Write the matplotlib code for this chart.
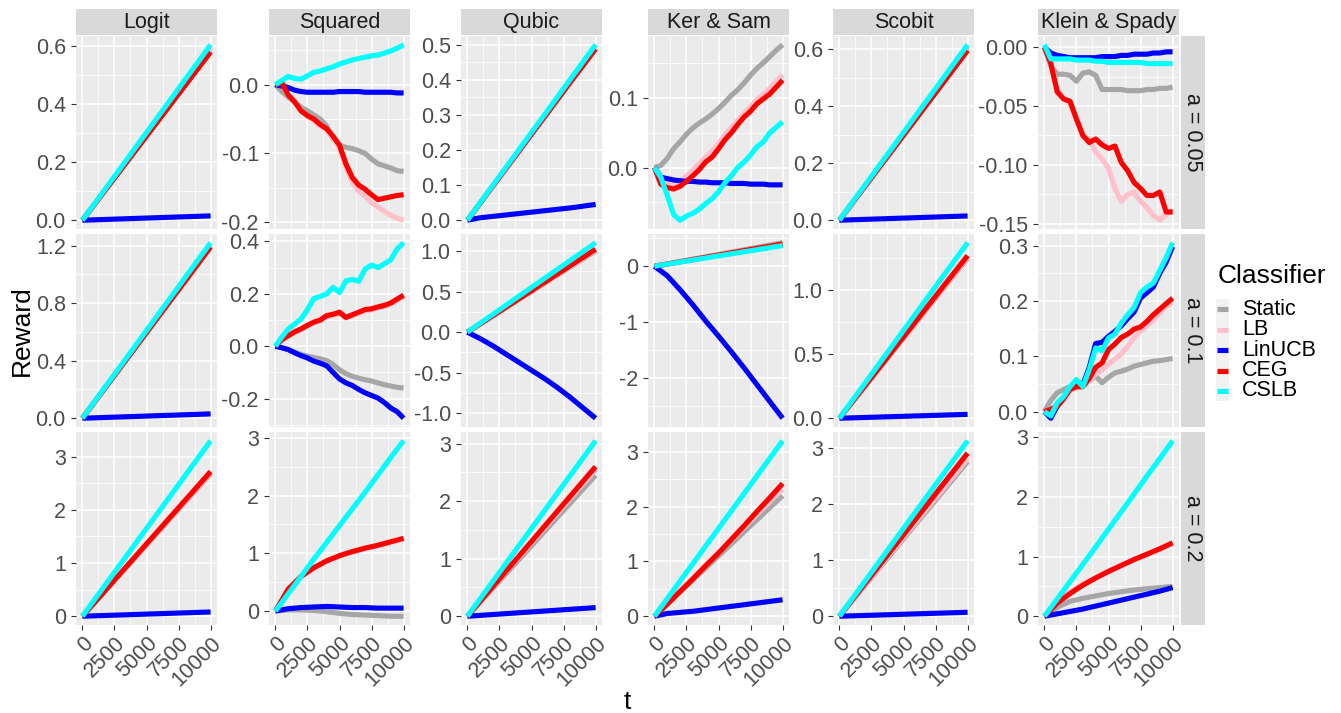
import numpy as np
import matplotlib
matplotlib.use("Agg")
import matplotlib.pyplot as plt
from matplotlib.patches import Rectangle
from matplotlib.lines import Line2D

plt.rcParams['font.family'] = ['Liberation Sans', 'DejaVu Sans']

# ---------------- data ----------------
models = ["Logit", "Squared", "Qubic", "Ker & Sam", "Scobit", "Klein & Spady"]
alphas = ["a = 0.05", "a = 0.1", "a = 0.2"]
classifiers = ["Static", "LB", "LinUCB", "CEG", "CSLB"]
colors = ["#A6A6A6", "#FFC0CB", "#0000FF", "#FF0000", "#00FFFF"]
x_ticks = [0, 2500, 5000, 7500, 10000]
x_tick_labels = ["0", "2500", "5000", "7500", "10000"]

# row a = 0.05
logit_a005 = {
    "Static": [0, .059, .118, .177, .236, .295, .354, .413, .472, .531, .59],
    "LB":     [0, .059, .118, .177, .236, .295, .354, .413, .472, .531, .592],
    "LinUCB": [0, .0015, .003, .0045, .006, .0075, .009, .0105, .012, .0135, .015],
    "CEG":    [0, .058, .116, .174, .232, .29, .348, .406, .464, .522, .58],
    "CSLB":   [0, .06, .121, .181, .242, .302, .363, .423, .484, .544, .605],
}
squared_a005 = {
    "Static": [0, -.010, -.018, -.025, -.033, -.038, -.044, -.050, -.060, -.079, -.088, -.091, -.093, -.096, -.100, -.108, -.115, -.118, -.121, -.125, -.126],
    "LB":     [0, .003, -.015, -.025, -.038, -.046, -.052, -.060, -.066, -.078, -.092, -.120, -.142, -.155, -.162, -.172, -.178, -.184, -.190, -.194, -.197],
    "LinUCB": [0, -.002, -.004, -.008, -.010, -.011, -.011, -.011, -.011, -.011, -.010, -.010, -.010, -.010, -.011, -.011, -.011, -.011, -.011, -.012, -.012],
    "CEG":    [0, .003, -.015, -.025, -.038, -.045, -.050, -.058, -.064, -.075, -.088, -.115, -.135, -.146, -.152, -.160, -.167, -.165, -.163, -.161, -.160],
    "CSLB":   [0, .006, .012, .009, .008, .013, .018, .020, .023, .026, .030, .033, .036, .038, .040, .042, .043, .046, .049, .053, .058],
}
qubic_a005 = {
    "Static": [0, .049, .098, .147, .196, .245, .294, .343, .392, .441, .49],
    "LB":     [0, .049, .098, .147, .196, .245, .294, .343, .392, .441, .492],
    "LinUCB": [0, .007, .011, .015, .019, .023, .027, .031, .035, .040, .045],
    "CEG":    [0, .049, .098, .147, .196, .245, .294, .343, .392, .44, .488],
    "CSLB":   [0, .05, .10, .15, .20, .25, .30, .35, .40, .45, .50],
}
kersam_a005 = {
    "Static": [0, .003, .013, .027, .037, .048, .057, .064, .070, .077, .085, .094, .104, .112, .122, .133, .143, .151, .160, .169, .177],
    "LB":     [0, -.020, -.024, -.026, -.020, -.012, -.004, .006, .015, .024, .034, .047, .058, .068, .078, .088, .098, .106, .114, .124, .134],
    "LinUCB": [0, -.014, -.016, -.018, -.019, -.020, -.020, -.021, -.021, -.022, -.022, -.022, -.023, -.023, -.023, -.024, -.024, -.024, -.025, -.025, -.025],
    "CEG":    [0, -.024, -.029, -.031, -.027, -.020, -.012, -.003, .008, .015, .027, .040, .050, .062, .073, .081, .092, .099, .106, .116, .126],
    "CSLB":   [0, -.014, -.040, -.068, -.076, -.070, -.066, -.060, -.052, -.045, -.035, -.022, -.012, .000, .008, .018, .030, .037, .050, .058, .066],
}
scobit_a005 = {
    "Static": [0, .0605, .121, .1815, .242, .3025, .363, .4235, .484, .5445, .605],
    "LB":     [0, .060, .120, .180, .240, .300, .360, .420, .480, .540, .600],
    "LinUCB": [0, .0015, .003, .0045, .006, .0075, .009, .0105, .012, .0135, .015],
    "CEG":    [0, .0595, .119, .1785, .238, .2975, .357, .4165, .476, .5355, .595],
    "CSLB":   [0, .0615, .123, .1845, .246, .3075, .369, .4305, .492, .5535, .615],
}
klein_a005 = {
    "Static": [0, -.016, -.023, -.023, -.024, -.029, -.022, -.021, -.024, -.036, -.036, -.036, -.036, -.037, -.037, -.037, -.036, -.036, -.035, -.035, -.034],
    "LB":     [0, -.014, -.036, -.044, -.048, -.062, -.076, -.078, -.089, -.095, -.103, -.120, -.131, -.125, -.123, -.131, -.136, -.143, -.147, -.142, -.138],
    "LinUCB": [0, -.005, -.007, -.008, -.009, -.009, -.009, -.009, -.009, -.008, -.008, -.008, -.007, -.007, -.006, -.006, -.006, -.005, -.005, -.004, -.004],
    "CEG":    [0, -.014, -.038, -.044, -.046, -.061, -.075, -.081, -.078, -.083, -.086, -.084, -.098, -.105, -.115, -.120, -.126, -.126, -.123, -.140, -.140],
    "CSLB":   [.002, -.010, -.010, -.010, -.010, -.011, -.011, -.011, -.012, -.012, -.013, -.013, -.013, -.013, -.013, -.013, -.014, -.014, -.014, -.014, -.014],
}

# row a = 0.1
logit_a01 = {
    "Static": [0, .12, .24, .36, .48, .60, .72, .84, .96, 1.08, 1.20],
    "LB":     [0, .12, .24, .36, .48, .60, .72, .84, .96, 1.08, 1.20],
    "LinUCB": [0, .003, .006, .009, .012, .015, .018, .021, .024, .027, .03],
    "CEG":    [0, .119, .238, .357, .476, .595, .714, .833, .952, 1.071, 1.19],
    "CSLB":   [0, .122, .244, .366, .488, .61, .732, .854, .976, 1.098, 1.22],
}
squared_a01 = {
    "Static": [0, -.005, -.012, -.022, -.031, -.038, -.043, -.048, -.055, -.070, -.090, -.105, -.115, -.122, -.128, -.133, -.140, -.147, -.152, -.157, -.160],
    "LB":     [0, .024, .038, .052, .063, .077, .088, .097, .112, .118, .125, .107, .116, .126, .135, .139, .146, .152, .160, .175, .190],
    "LinUCB": [0, -.006, -.013, -.025, -.036, -.045, -.057, -.065, -.075, -.100, -.125, -.140, -.150, -.165, -.178, -.188, -.198, -.215, -.236, -.250, -.275],
    "CEG":    [0, .025, .040, .055, .066, .080, .092, .100, .117, .122, .130, .110, .120, .130, .140, .143, .150, .156, .165, .180, .195],
    "CSLB":   [0, .035, .066, .085, .104, .140, .182, .190, .200, .225, .205, .250, .255, .248, .295, .310, .300, .315, .330, .372, .395],
}
qubic_a01 = {
    "Static": [0, .10, .20, .30, .40, .50, .60, .70, .80, .90, 1.0],
    "LB":     [0, .101, .202, .303, .404, .505, .606, .707, .808, .909, 1.01],
    "LinUCB": [0, -.08, -.17, -.27, -.37, -.47, -.57, -.68, -.80, -.93, -1.06],
    "CEG":    [0, .102, .204, .306, .408, .51, .612, .714, .816, .918, 1.02],
    "CSLB":   [0, .11, .22, .33, .44, .55, .66, .77, .88, .99, 1.10],
}
kersam_a01 = {
    "Static": [0, .042, .084, .126, .168, .21, .252, .294, .336, .378, .42],
    "LB":     [0, .04, .08, .12, .16, .20, .24, .28, .32, .36, .40],
    "LinUCB": [0, -.17, -.42, -.69, -.98, -1.25, -1.53, -1.82, -2.12, -2.42, -2.72],
    "CEG":    [0, .04, .08, .12, .16, .20, .24, .28, .32, .36, .40],
    "CSLB":   [0, .037, .074, .111, .148, .185, .222, .259, .296, .333, .37],
}
scobit_a01 = {
    "Static": [0, .125, .25, .375, .50, .625, .75, .875, 1.0, 1.125, 1.25],
    "LB":     [0, .126, .252, .378, .504, .63, .756, .882, 1.008, 1.134, 1.26],
    "LinUCB": [0, .003, .006, .009, .012, .015, .018, .021, .024, .027, .03],
    "CEG":    [0, .127, .254, .381, .508, .635, .762, .889, 1.016, 1.143, 1.27],
    "CSLB":   [0, .137, .274, .411, .548, .685, .822, .959, 1.096, 1.233, 1.37],
}
klein_a01 = {
    "Static": [0, .020, .034, .040, .045, .050, .052, .056, .064, .052, .062, .070, .073, .077, .082, .085, .088, .091, .092, .094, .096],
    "LB":     [0, .003, .008, .020, .038, .042, .045, .055, .068, .075, .086, .095, .104, .118, .134, .145, .155, .165, .178, .190, .198],
    "LinUCB": [0, -.012, .010, .024, .043, .055, .048, .080, .123, .125, .136, .145, .155, .168, .180, .205, .215, .225, .250, .270, .298],
    "CEG":    [0, .004, .010, .024, .040, .045, .045, .060, .080, .088, .112, .122, .134, .140, .149, .153, .163, .175, .185, .195, .205],
    "CSLB":   [0, -.008, .016, .027, .045, .058, .045, .076, .115, .110, .133, .140, .160, .175, .188, .215, .225, .232, .255, .278, .305],
}

# row a = 0.2
logit_a02 = {
    "Static": [0, .268, .536, .804, 1.072, 1.34, 1.608, 1.876, 2.144, 2.412, 2.68],
    "LB":     [0, .27, .54, .81, 1.08, 1.35, 1.62, 1.89, 2.16, 2.43, 2.70],
    "LinUCB": [0, .008, .016, .024, .032, .04, .048, .056, .064, .072, .08],
    "CEG":    [0, .272, .544, .816, 1.088, 1.36, 1.632, 1.904, 2.176, 2.448, 2.72],
    "CSLB":   [0, .33, .66, .99, 1.32, 1.65, 1.98, 2.31, 2.64, 2.97, 3.30],
}
squared_a02 = {
    "Static": [0, .02, .02, .01, -.01, -.04, -.06, -.07, -.08, -.09, -.09],
    "LB":     [0, .37, .59, .74, .86, .95, 1.02, 1.08, 1.13, 1.19, 1.25],
    "LinUCB": [0, .04, .06, .07, .08, .07, .06, .06, .05, .05, .05],
    "CEG":    [0, .38, .60, .75, .87, .96, 1.03, 1.09, 1.14, 1.20, 1.26],
    "CSLB":   [0, .30, .60, .90, 1.19, 1.48, 1.77, 2.06, 2.36, 2.66, 2.95],
}
qubic_a02 = {
    "Static": [0, .245, .49, .735, .98, 1.225, 1.47, 1.715, 1.96, 2.205, 2.45],
    "LB":     [0, .255, .51, .765, 1.02, 1.275, 1.53, 1.785, 2.04, 2.295, 2.55],
    "LinUCB": [0, .015, .03, .045, .06, .075, .09, .105, .12, .135, .15],
    "CEG":    [0, .26, .52, .78, 1.04, 1.30, 1.56, 1.82, 2.08, 2.34, 2.60],
    "CSLB":   [0, .305, .61, .915, 1.22, 1.525, 1.83, 2.135, 2.44, 2.745, 3.05],
}
kersam_a02 = {
    "Static": [0, .22, .44, .66, .88, 1.10, 1.32, 1.54, 1.76, 1.98, 2.20],
    "LB":     [0, .232, .464, .696, .928, 1.16, 1.392, 1.624, 1.856, 2.088, 2.32],
    "LinUCB": [0, .05, .07, .09, .12, .15, .18, .21, .24, .27, .30],
    "CEG":    [0, .22, .45, .68, .92, 1.15, 1.40, 1.65, 1.91, 2.16, 2.42],
    "CSLB":   [0, .32, .64, .96, 1.28, 1.60, 1.92, 2.24, 2.56, 2.88, 3.20],
}
scobit_a02 = {
    "Static": [0, .275, .55, .825, 1.10, 1.375, 1.65, 1.925, 2.20, 2.475, 2.75],
    "LB":     [0, .28, .56, .84, 1.12, 1.40, 1.68, 1.96, 2.24, 2.52, 2.80],
    "LinUCB": [0, .007, .014, .021, .028, .035, .042, .049, .056, .063, .07],
    "CEG":    [0, .29, .58, .87, 1.16, 1.45, 1.74, 2.03, 2.32, 2.61, 2.90],
    "CSLB":   [0, .312, .624, .936, 1.248, 1.56, 1.872, 2.184, 2.496, 2.808, 3.12],
}
klein_a02 = {
    "Static": [0, .15, .25, .30, .34, .38, .41, .44, .46, .48, .50],
    "LB":     [0, .25, .41, .54, .65, .76, .86, .95, 1.03, 1.12, 1.22],
    "LinUCB": [0, .04, .08, .12, .17, .22, .27, .32, .37, .42, .48],
    "CEG":    [0, .22, .38, .52, .64, .75, .85, .95, 1.04, 1.13, 1.23],
    "CSLB":   [0, .29, .58, .87, 1.16, 1.46, 1.75, 2.05, 2.35, 2.64, 2.94],
}

panels = [
    [logit_a005, squared_a005, qubic_a005, kersam_a005, scobit_a005, klein_a005],
    [logit_a01, squared_a01, qubic_a01, kersam_a01, scobit_a01, klein_a01],
    [logit_a02, squared_a02, qubic_a02, kersam_a02, scobit_a02, klein_a02],
]
y_ticks = [
    [[0, .2, .4, .6], [-.2, -.1, 0], [0, .1, .2, .3, .4, .5], [0, .1], [0, .2, .4, .6], [-.15, -.10, -.05, 0]],
    [[0, .4, .8, 1.2], [-.2, 0, .2, .4], [-1, -.5, 0, .5, 1], [-2, -1, 0], [0, .5, 1.0], [0, .1, .2, .3]],
    [[0, 1, 2, 3], [0, 1, 2, 3], [0, 1, 2, 3], [0, 1, 2, 3], [0, 1, 2, 3], [0, 1, 2, 3]],
]
y_decimals = [
    [1, 1, 1, 1, 1, 2],
    [1, 1, 1, 0, 1, 1],
    [0, 0, 0, 0, 0, 0],
]

# ---------------- layout ----------------
W, H = 1341, 713
fig = plt.figure(figsize=(W / 100, H / 100), dpi=100)
col_left = [76, 269, 461, 648, 833, 1038]
row_top = [36, 234, 432]
pw, ph = 141, 193
LW = 3.7


def rect(l, t, w, h):
    return [l / W, 1 - (t + h) / H, w / W, h / H]


TICK_FS = 15.5
for r in range(3):
    for c in range(6):
        ax = fig.add_axes(rect(col_left[c], row_top[r], pw, ph))
        ax.set_facecolor("#EBEBEB")
        data = panels[r][c]
        allv = []
        for name, col in zip(classifiers, colors):
            vals = np.array(data[name], dtype=float)
            t = np.linspace(0, 10000, len(vals))
            ax.plot(t, vals, color=col, lw=LW, solid_capstyle="butt",
                    solid_joinstyle="round", zorder=3)
            allv.extend(vals)
        lo, hi = min(allv), max(allv)
        rng = hi - lo
        ylo, yhi = lo - 0.05 * rng, hi + 0.05 * rng
        ax.set_xlim(-500, 10500)
        ax.set_ylim(ylo, yhi)
        yt = y_ticks[r][c]
        d = y_decimals[r][c]
        ax.set_yticks(yt)
        ax.set_yticklabels([f"{v:.{d}f}" for v in yt])
        step = yt[1] - yt[0]
        ym = [yt[0] - step / 2] + [(a + b) / 2 for a, b in zip(yt[:-1], yt[1:])] + [yt[-1] + step / 2]
        ym = [v for v in ym if ylo < v < yhi]
        ax.set_yticks(ym, minor=True)
        ax.set_xticks(x_ticks)
        ax.set_xticks([1250, 3750, 6250, 8750], minor=True)
        if r == 2:
            ax.set_xticklabels(x_tick_labels, rotation=45, ha="right", va="top",
                               rotation_mode="anchor")
        else:
            ax.tick_params(axis="x", which="both", bottom=False, labelbottom=False)
        ax.grid(which="major", color="white", lw=1.1, zorder=0)
        ax.grid(which="minor", color="white", lw=0.55, zorder=0)
        ax.set_axisbelow(True)
        for s in ax.spines.values():
            s.set_visible(False)
        ax.tick_params(which="major", length=3.8, width=0.8, color="#333333",
                       labelcolor="#4D4D4D", labelsize=TICK_FS, pad=3.5)
        ax.tick_params(which="minor", length=0)
        ax.tick_params(axis="x", pad=2)

# overlay for strips, titles and legend
ov = fig.add_axes([0, 0, 1, 1], zorder=-1)
ov.set_xlim(0, W)
ov.set_ylim(H, 0)
ov.axis("off")
for c in range(6):
    ov.add_patch(Rectangle((col_left[c], 9), pw, 26, color="#D9D9D9", lw=0))
    ov.text(col_left[c] + pw / 2, 22.5, models[c], ha="center", va="center",
            fontsize=15.5, color="#1A1A1A")
for r in range(3):
    ov.add_patch(Rectangle((1181, row_top[r]), 24, ph, color="#D9D9D9", lw=0))
    ov.text(1193, row_top[r] + ph / 2, alphas[r], ha="center", va="center",
            rotation=-90, fontsize=15.5, color="#1A1A1A")

ov.text(22, 331, "Reward", rotation=90, ha="center", va="center", fontsize=19, color="black")
ov.text(627, 702, "t", ha="center", va="center", fontsize=19, color="black")

# legend
ov.text(1218, 276, "Classifier", ha="left", va="center", fontsize=19, color="black")
ov.add_patch(Rectangle((1216.5, 299), 13, 102, color="#F2F2F2", lw=0))
key_y = [309.3, 329.7, 350.1, 370.5, 390.9]
for name, col, ky in zip(classifiers, colors, key_y):
    ov.add_line(Line2D([1217.5, 1228.5], [ky, ky], color=col, lw=LW, solid_capstyle="butt"))
    ov.text(1242, ky, name, ha="left", va="center", fontsize=15.5, color="black")

fig.savefig("out.png", dpi=100)
